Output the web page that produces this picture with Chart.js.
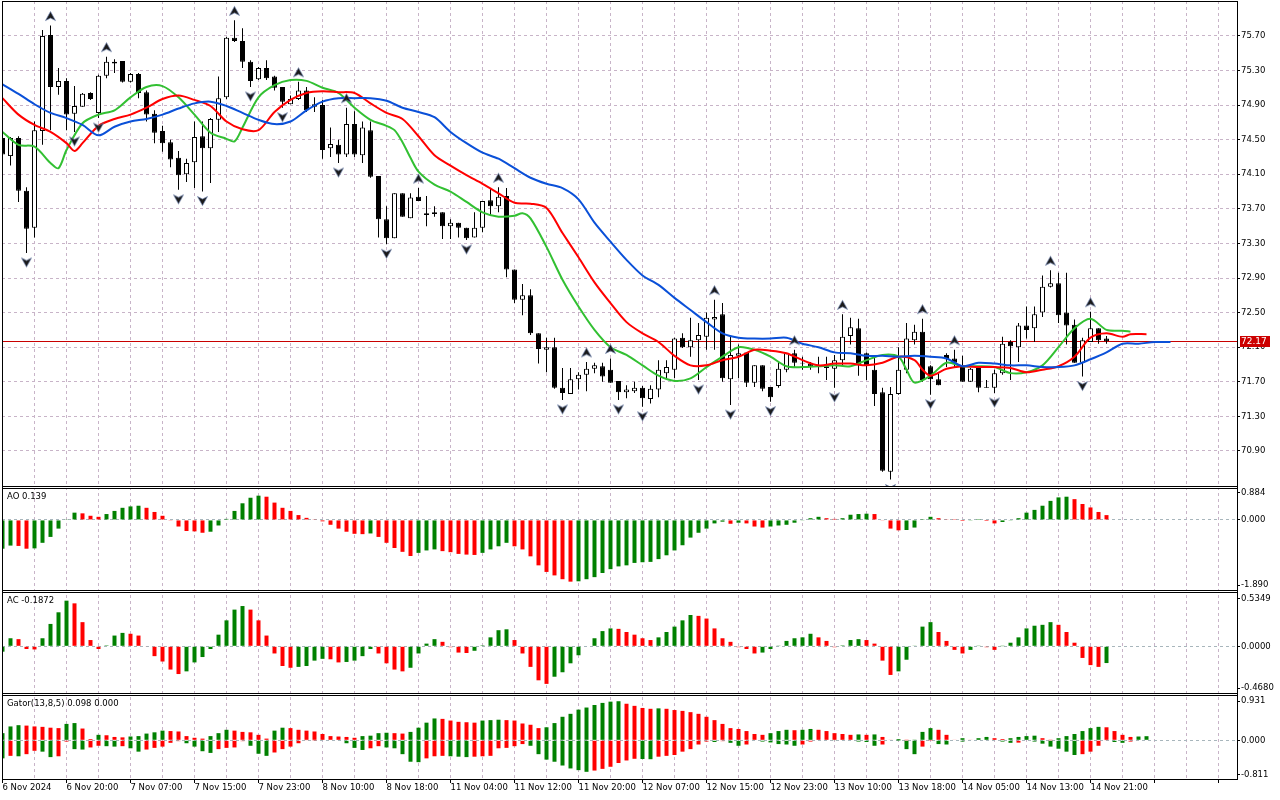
<!DOCTYPE html>
<html>
<head>
<meta charset="utf-8">
<script src="https://cdn.jsdelivr.net/npm/chart.js@4.4.1/dist/chart.umd.min.js"></script>
<style>
  html, body { margin: 0; padding: 0; background: #fff; overflow: hidden; }
  canvas { display: block; }
</style>
</head>
<body>
<canvas id="chart" width="1280" height="800" style="width:1280px;height:800px"></canvas>
<script>
// ---- data (H1 bars, 6-14 Nov 2024) ----
const timeLabels = ["6 Nov 2024", "6 Nov 20:00", "7 Nov 07:00", "7 Nov 15:00", "7 Nov 23:00",
  "8 Nov 10:00", "8 Nov 18:00", "11 Nov 04:00", "11 Nov 12:00", "11 Nov 20:00", "12 Nov 07:00",
  "12 Nov 15:00", "12 Nov 23:00", "13 Nov 10:00", "13 Nov 18:00", "14 Nov 05:00", "14 Nov 13:00",
  "14 Nov 21:00"];

const priceTicks = [70.90, 71.30, 71.70, 72.10, 72.50, 72.90, 73.30, 73.70, 74.10, 74.50, 74.90, 75.30, 75.70];
const aoTicks = [0.884, 0, -1.890];
const acTicks = [0.5349, 0, -0.4680];
const gatorTicks = [0.931, 0, -0.811];

const open = [74.52, 74.31, 74.52, 73.91, 73.48, 74.60, 75.71, 75.11, 75.18, 74.80,
  74.88, 75.04, 74.81, 75.24, 75.40, 75.41, 75.17, 75.26, 75.05, 74.80,
  74.60, 74.47, 74.29, 74.10, 74.24, 74.54, 74.40, 74.73, 74.99, 75.68,
  75.64, 75.40, 75.20, 75.33, 75.23, 75.11, 74.91, 74.97, 75.07, 74.88,
  74.90, 74.40, 74.44, 74.33, 74.68, 74.32, 74.61, 74.08, 73.58, 73.36,
  73.88, 73.59, 73.84, 73.65, 73.66, 73.66, 73.50, 73.54, 73.48, 73.37,
  73.48, 73.80, 73.73, 73.85, 73.00, 72.65, 72.70, 72.26, 72.07, 72.10,
  71.63, 71.56, 71.73, 71.78, 71.85, 71.88, 71.84, 71.71, 71.58, 71.59,
  71.63, 71.50, 71.61, 71.80, 71.84, 72.21, 72.10, 72.18, 72.22, 72.42,
  72.48, 71.73, 72.00, 72.04, 71.69, 71.89, 71.64, 71.65, 71.84, 72.03,
  71.92, 71.91, 71.89, 71.88, 71.85, 71.95, 72.23, 72.32, 72.03, 71.84,
  71.58, 70.66, 71.56, 71.84, 72.18, 72.28, 71.88, 71.73, 72.01, 71.97,
  71.87, 71.70, 71.86, 71.64, 71.63, 71.80, 72.16, 72.10, 72.35, 72.32,
  72.50, 72.80, 72.84, 72.50, 72.36, 71.92, 72.16, 72.32, 72.20];
const high = [74.54, 74.53, 74.54, 73.95, 74.71, 75.77, 75.82, 75.33, 75.21, 75.12,
  75.04, 75.05, 75.25, 75.46, 75.43, 75.41, 75.27, 75.27, 75.07, 74.84,
  74.66, 74.50, 74.37, 74.28, 74.71, 74.71, 74.75, 75.23, 75.69, 75.88,
  75.79, 75.42, 75.34, 75.42, 75.24, 75.11, 75.01, 75.17, 75.11, 74.99,
  74.96, 74.64, 74.50, 74.87, 74.83, 74.71, 74.71, 74.08, 73.73, 73.88,
  73.88, 73.88, 73.94, 73.85, 73.73, 73.66, 73.58, 73.54, 73.48, 73.66,
  73.79, 73.94, 73.95, 73.94, 73.00, 72.83, 72.77, 72.26, 72.21, 72.21,
  71.86, 71.86, 71.81, 71.93, 71.92, 71.92, 71.97, 71.71, 71.66, 71.70,
  71.65, 71.66, 71.95, 71.95, 72.21, 72.26, 72.44, 72.38, 72.50, 72.65,
  72.61, 72.22, 72.13, 72.04, 71.89, 71.89, 71.64, 71.94, 72.03, 72.07,
  71.99, 71.93, 71.99, 71.99, 72.01, 72.48, 72.44, 72.43, 72.04, 71.99,
  71.63, 71.64, 72.10, 72.38, 72.36, 72.43, 71.89, 71.80, 72.03, 72.07,
  72.00, 71.86, 71.86, 71.72, 71.84, 72.22, 72.18, 72.38, 72.57, 72.57,
  72.93, 72.99, 72.96, 72.96, 72.42, 72.21, 72.51, 72.32, 72.23];
const low = [74.30, 74.20, 73.78, 73.19, 73.37, 74.44, 74.61, 75.02, 74.61, 74.59,
  74.88, 74.96, 74.75, 75.21, 75.27, 75.16, 75.16, 74.98, 74.71, 74.46,
  74.36, 74.18, 73.92, 74.01, 73.94, 73.90, 74.00, 74.59, 74.97, 75.63,
  75.33, 75.11, 75.19, 75.19, 75.07, 74.87, 74.91, 74.96, 74.82, 74.82,
  74.28, 74.30, 74.23, 74.30, 74.30, 74.23, 74.06, 73.37, 73.29, 73.36,
  73.61, 73.59, 73.79, 73.50, 73.61, 73.35, 73.35, 73.37, 73.34, 73.37,
  73.43, 73.63, 73.66, 72.91, 72.61, 72.47, 72.24, 71.91, 71.81, 71.62,
  71.49, 71.56, 71.61, 71.59, 71.80, 71.70, 71.69, 71.49, 71.51, 71.57,
  71.41, 71.45, 71.52, 71.72, 71.74, 72.09, 71.99, 71.72, 72.07, 72.07,
  71.70, 71.43, 71.74, 71.64, 71.64, 71.59, 71.47, 71.63, 71.81, 71.87,
  71.84, 71.84, 71.80, 71.72, 71.63, 71.89, 72.13, 71.77, 71.72, 71.42,
  70.66, 70.57, 71.55, 71.80, 72.13, 71.70, 71.55, 71.66, 71.87, 71.87,
  71.70, 71.70, 71.58, 71.63, 71.57, 71.78, 71.72, 71.93, 72.20, 72.16,
  72.45, 72.79, 72.38, 72.13, 71.92, 71.76, 72.16, 72.14, 72.14];
const close = [74.33, 74.52, 73.91, 73.47, 74.61, 75.70, 75.11, 75.18, 74.79, 74.89,
  75.03, 74.97, 75.24, 75.40, 75.38, 75.17, 75.26, 75.04, 74.79, 74.58,
  74.46, 74.27, 74.09, 74.23, 74.53, 74.40, 74.74, 74.98, 75.68, 75.64,
  75.40, 75.18, 75.33, 75.21, 75.10, 74.94, 74.97, 75.07, 74.84, 74.91,
  74.38, 74.45, 74.33, 74.68, 74.33, 74.64, 74.07, 73.58, 73.36, 73.88,
  73.61, 73.83, 73.79, 73.63, 73.64, 73.50, 73.54, 73.48, 73.36, 73.48,
  73.79, 73.73, 73.84, 73.00, 72.65, 72.70, 72.26, 72.08, 72.10, 71.63,
  71.57, 71.73, 71.78, 71.85, 71.89, 71.76, 71.69, 71.58, 71.61, 71.63,
  71.51, 71.62, 71.84, 71.87, 72.20, 72.10, 72.18, 72.24, 72.44, 72.45,
  71.74, 72.01, 72.03, 71.69, 71.89, 71.62, 71.52, 71.85, 72.03, 71.92,
  71.91, 71.88, 71.88, 71.86, 71.95, 72.22, 72.33, 71.89, 71.89, 71.56,
  70.67, 71.56, 71.84, 72.20, 72.28, 71.72, 71.73, 71.66, 71.96, 71.92,
  71.70, 71.85, 71.63, 71.63, 71.80, 72.14, 72.11, 72.35, 72.30, 72.48,
  72.80, 72.84, 72.47, 72.35, 71.92, 72.18, 72.32, 72.18, 72.17];

// Alligator lines as [bar, price]
const jaw = [[0,75.14],[2,75.03],[4,74.91],[6,74.81],[8,74.75],[10,74.67],[12,74.55],[14,74.65],[16,74.71],
  [18,74.74],[20,74.79],[22,74.86],[24,74.92],[26,74.94],[28,74.89],[30,74.81],[32,74.73],[34,74.68],
  [36,74.71],[38,74.84],[40,74.94],[42,74.98],[44,74.98],[46,74.98],[48,74.95],[50,74.87],[52,74.82],
  [54,74.76],[56,74.59],[58,74.46],[60,74.35],[62,74.28],[64,74.17],[66,74.06],[68,73.99],[70,73.94],
  [72,73.81],[74,73.54],[76,73.32],[78,73.11],[80,72.93],[82,72.82],[84,72.67],[86,72.53],[88,72.39],
  [90,72.26],[92,72.21],[94,72.20],[96,72.20],[98,72.21],[100,72.14],[102,72.10],[104,72.04],[106,72.03],
  [108,72.00],[110,72.00],[112,71.99],[114,72.00],[116,71.99],[118,71.97],[120,71.88],[122,71.92],
  [124,71.91],[126,71.89],[128,71.89],[130,71.87],[132,71.87],[134,71.89],[136,71.96],[138,72.04],
  [140,72.14],[142,72.14],[144,72.16],[146,72.16]];
const teeth = [[0,74.98],[2,74.79],[4,74.67],[6,74.59],[8,74.46],[9,74.37],[10,74.46],[12,74.66],[14,74.74],
  [16,74.79],[18,74.87],[20,74.97],[22,75.01],[24,74.96],[26,74.89],[28,74.71],[30,74.62],[32,74.61],
  [34,74.82],[36,74.96],[38,75.04],[40,75.06],[42,75.05],[44,75.04],[46,74.92],[48,74.81],[50,74.74],
  [52,74.54],[54,74.32],[56,74.20],[58,74.09],[60,73.99],[62,73.88],[64,73.77],[66,73.76],[68,73.71],
  [70,73.42],[72,73.14],[74,72.85],[76,72.61],[78,72.39],[80,72.26],[82,72.16],[84,72.00],[86,71.89],
  [88,71.89],[90,71.95],[92,71.99],[94,72.07],[96,72.06],[98,72.03],[100,71.95],[102,71.89],[104,71.91],
  [106,71.91],[108,71.89],[110,71.92],[112,71.99],[114,71.95],[115,71.84],[116,71.77],[118,71.85],
  [120,71.88],[122,71.87],[124,71.87],[126,71.86],[128,71.81],[130,71.84],[132,71.88],[134,71.99],
  [136,72.21],[138,72.26],[140,72.22],[141,72.25],[143,72.25]];
const lips = [[0,74.59],[2,74.44],[4,74.42],[6,74.23],[7,74.17],[8,74.38],[10,74.69],[12,74.79],[14,74.84],
  [16,74.99],[18,75.11],[20,75.12],[22,74.99],[24,74.79],[26,74.58],[28,74.51],[29,74.48],[30,74.64],
  [32,74.99],[34,75.13],[36,75.19],[38,75.18],[40,75.10],[42,75.04],[44,74.87],[46,74.73],[48,74.66],
  [49,74.61],[50,74.47],[51,74.29],[52,74.13],[54,73.98],[56,73.90],[58,73.78],[60,73.66],[62,73.61],
  [64,73.62],[65,73.65],[66,73.59],[68,73.26],[70,72.88],[72,72.57],[74,72.30],[76,72.10],[78,72.01],
  [80,71.89],[82,71.77],[84,71.71],[86,71.74],[88,71.87],[90,71.99],[92,72.10],[94,72.07],[96,71.99],
  [98,71.88],[100,71.87],[102,71.88],[104,71.89],[106,71.88],[108,71.95],[110,72.01],[112,71.99],
  [113,71.84],[114,71.69],[116,71.77],[118,71.92],[120,71.88],[122,71.88],[124,71.87],[126,71.80],
  [128,71.81],[130,71.89],[132,72.10],[134,72.32],[136,72.43],[138,72.30],[140,72.29],[141,72.28]];

const fractalUp = [6, 13, 29, 37, 43, 52, 62, 73, 76, 89, 99, 105, 115, 119, 131, 136];
const fractalDown = [3, 9, 12, 22, 25, 31, 35, 42, 48, 58, 70, 77, 80, 87, 91, 96, 104, 111, 116, 124, 135];

const ao = [-0.83, -0.74, -0.75, -0.83, -0.82, -0.66, -0.49, -0.25, 0.02, 0.21,
  0.19, 0.12, 0.09, 0.17, 0.26, 0.35, 0.39, 0.41, 0.35, 0.23,
  0.12, -0.02, -0.19, -0.32, -0.33, -0.37, -0.34, -0.16, 0.03, 0.26,
  0.48, 0.64, 0.70, 0.67, 0.50, 0.35, 0.26, 0.14, 0.06, 0.02,
  -0.04, -0.14, -0.25, -0.34, -0.40, -0.41, -0.39, -0.49, -0.66, -0.81,
  -0.92, -1.04, -0.95, -0.88, -0.85, -0.90, -0.93, -0.98, -1.00, -1.01,
  -0.95, -0.85, -0.76, -0.66, -0.76, -0.85, -1.05, -1.31, -1.50, -1.60,
  -1.71, -1.78, -1.77, -1.71, -1.65, -1.53, -1.42, -1.34, -1.31, -1.24,
  -1.22, -1.21, -1.13, -1.02, -0.88, -0.73, -0.51, -0.37, -0.25, -0.10,
  -0.05, -0.11, -0.08, -0.10, -0.19, -0.22, -0.19, -0.16, -0.14, -0.08,
  -0.01, 0.05, 0.09, 0.05, 0.03, 0.05, 0.15, 0.17, 0.18, 0.17,
  -0.01, -0.25, -0.30, -0.29, -0.22, 0.005, 0.09, 0.05, 0.02, 0.005,
  -0.03, -0.02, 0.003, -0.03, -0.10, -0.06, -0.02, 0.05, 0.21, 0.29,
  0.41, 0.55, 0.65, 0.67, 0.60, 0.46, 0.36, 0.23, 0.139];

const ac = [-0.06, 0.09, 0.08, -0.03, -0.035, 0.09, 0.25, 0.38, 0.51, 0.48,
  0.27, 0.07, -0.03, 0.01, 0.12, 0.15, 0.14, 0.12, -0.005, -0.11,
  -0.17, -0.26, -0.31, -0.28, -0.18, -0.12, -0.03, 0.13, 0.29, 0.41,
  0.45, 0.41, 0.29, 0.12, -0.08, -0.22, -0.24, -0.23, -0.22, -0.16,
  -0.14, -0.145, -0.18, -0.175, -0.16, -0.11, -0.03, -0.08, -0.19, -0.26,
  -0.28, -0.24, -0.08, 0.03, 0.08, 0.05, -0.01, -0.07, -0.075, -0.05,
  0.01, 0.10, 0.18, 0.19, 0.07, -0.08, -0.23, -0.38, -0.42, -0.34,
  -0.29, -0.19, -0.10, 0.00, 0.09, 0.17, 0.20, 0.195, 0.16, 0.13,
  0.09, 0.07, 0.10, 0.16, 0.22, 0.29, 0.35, 0.34, 0.31, 0.20,
  0.09, 0.05, -0.01, -0.03, -0.08, -0.07, -0.03, 0.003, 0.06, 0.09,
  0.10, 0.14, 0.10, 0.06, -0.01, 0.01, 0.07, 0.08, 0.07, 0.03,
  -0.16, -0.32, -0.28, -0.15, 0.004, 0.22, 0.27, 0.16, 0.06, -0.04,
  -0.08, -0.04, 0.003, -0.01, -0.04, 0.002, 0.04, 0.10, 0.20, 0.23,
  0.24, 0.27, 0.24, 0.16, 0.04, -0.13, -0.21, -0.23, -0.1872];

const gatorUp = [0.17, 0.33, 0.36, 0.35, 0.33, 0.32, 0.30, 0.29, 0.39, 0.41,
  0.28, 0.03, 0.13, 0.12, 0.08, 0.07, 0.09, 0.10, 0.16, 0.19,
  0.23, 0.22, 0.21, 0.10, 0.06, 0.04, 0.10, 0.17, 0.25, 0.23,
  0.20, 0.19, 0.13, 0.04, 0.23, 0.30, 0.29, 0.25, 0.23, 0.21,
  0.15, 0.10, 0.09, 0.08, 0.06, 0.10, 0.11, 0.17, 0.18, 0.17,
  0.16, 0.20, 0.30, 0.42, 0.52, 0.51, 0.47, 0.44, 0.43, 0.42,
  0.47, 0.48, 0.49, 0.48, 0.47, 0.40, 0.37, 0.29, 0.31, 0.41,
  0.56, 0.63, 0.73, 0.78, 0.84, 0.89, 0.92, 0.93, 0.87, 0.82,
  0.77, 0.75, 0.76, 0.75, 0.72, 0.70, 0.67, 0.63, 0.56, 0.48,
  0.39, 0.29, 0.27, 0.22, 0.15, 0.13, 0.17, 0.22, 0.25, 0.24,
  0.25, 0.27, 0.25, 0.22, 0.17, 0.15, 0.13, 0.14, 0.13, 0.14,
  0.08, 0.01, 0.03, 0.002, 0.004, 0.20, 0.29, 0.25, 0.13, 0.01,
  0.05, 0.01, 0.05, 0.08, 0.05, 0.03, 0.05, 0.08, 0.10, 0.11,
  0.05, 0.003, 0.05, 0.10, 0.15, 0.22, 0.29, 0.32, 0.31, 0.22,
  0.13, 0.08, 0.09, 0.098];
const gatorDown = [-0.43, -0.37, -0.38, -0.33, -0.25, -0.27, -0.40, -0.38, -0.03, -0.21,
  -0.22, -0.17, -0.13, -0.14, -0.15, -0.14, -0.19, -0.27, -0.22, -0.18,
  -0.15, -0.06, -0.02, -0.07, -0.15, -0.26, -0.30, -0.21, -0.18, -0.17,
  -0.02, -0.13, -0.32, -0.37, -0.29, -0.21, -0.15, -0.07, -0.01, -0.005,
  0, 0, 0, -0.07, -0.18, -0.23, -0.19, -0.14, -0.17, -0.19,
  -0.33, -0.51, -0.52, -0.43, -0.38, -0.37, -0.38, -0.39, -0.40, -0.39,
  -0.38, -0.37, -0.19, -0.18, -0.14, -0.09, -0.13, -0.33, -0.46, -0.51,
  -0.60, -0.67, -0.71, -0.75, -0.72, -0.68, -0.63, -0.54, -0.48, -0.44,
  -0.445, -0.45, -0.39, -0.37, -0.35, -0.27, -0.21, -0.10, -0.03, -0.04,
  -0.02, -0.06, -0.13, -0.10, 0, -0.03, -0.05, -0.09, -0.10, -0.13,
  -0.10, -0.03, 0, 0, -0.01, 0, 0, -0.03, -0.04, -0.13,
  -0.10, 0, -0.002, -0.21, -0.33, -0.15, -0.005, -0.09, -0.10, 0,
  -0.03, 0, 0, 0, 0, -0.03, -0.06, -0.055, 0, -0.03,
  -0.08, -0.15, -0.20, -0.27, -0.35, -0.33, -0.27, -0.13, -0.01, -0.04,
  -0.06, -0.03, 0, 0];

// ---- look ----
const FONT = '"DejaVu Sans", "Liberation Sans", sans-serif';
const GRID = '#c8b4c8';
const ZERO = '#a8b6bc';
const GREEN = '#008000';
const RED = '#ff0000';
const lastClose = close[close.length - 1];

Chart.defaults.font.family = FONT;
Chart.defaults.font.size = 8.5;
Chart.defaults.color = '#000';

function risingColors(values, magnitude) {
  return values.map((v, i) => {
    if (i === 0) return GREEN;
    const a = magnitude ? Math.abs(v) : v;
    const b = magnitude ? Math.abs(values[i - 1]) : values[i - 1];
    return a > b ? GREEN : RED;
  });
}

function fractalImage(up) {
  const c = document.createElement('canvas');
  c.width = 13; c.height = 33;
  const g = c.getContext('2d');
  const s = up ? 1 : -1;
  const cx = 6.5, cy = 16.5 - 9 * s;
  g.beginPath();
  g.moveTo(cx, cy - 5 * s);
  g.lineTo(cx + 5, cy + 4 * s);
  g.lineTo(cx, cy + 1.5 * s);
  g.lineTo(cx - 5, cy + 4 * s);
  g.closePath();
  g.fillStyle = '#1a1a1a';
  g.fill();
  g.strokeStyle = 'rgba(110,130,175,0.85)';
  g.lineWidth = 0.8;
  g.stroke();
  return c;
}

const fitRight = s => { s.width = 43; s.paddingTop = 0; s.paddingBottom = 0; };

function subAxis(ticks, weight, min, max, digits) {
  return {
    type: 'linear', position: 'right', stack: 'panes', stackWeight: weight, min, max,
    afterBuildTicks: s => {
      const m = (s.max - s.min) * 0.055;
      s.ticks = ticks.map(v => ({ value: Math.max(s.min + m, Math.min(s.max - m, v)) }));
    },
    afterFit: fitRight,
    ticks: { padding: 1, callback: (v, i) => ticks[i].toFixed(digits) },
    grid: {
      color: c => (c.tick && c.tick.value === 0 ? ZERO : 'rgba(0,0,0,0)'),
      tickLength: 3, tickColor: '#000'
    },
    border: { color: '#000', dash: [3, 3] }
  };
}

const gridBars = [];
for (let b = 0; b <= 152; b += 4) gridBars.push(b);

const paneTitles = [
  ['yAO', 'AO ' + ao[ao.length - 1].toFixed(3)],
  ['yAC', 'AC ' + ac[ac.length - 1].toFixed(4)],
  ['yGator', 'Gator(13,8,5) ' + gatorUp[gatorUp.length - 1].toFixed(3) + ' ' + Math.abs(gatorDown[gatorDown.length - 1]).toFixed(3)]
];

const paneDecor = {
  id: 'paneDecor',
  beforeDatasetsDraw(chart) {
    const { ctx, chartArea: a, scales } = chart;
    const y = Math.round(scales.yMain.getPixelForValue(lastClose));
    ctx.save();
    ctx.fillStyle = '#c80000';
    ctx.fillRect(a.left, y, a.right - a.left, 1);
    ctx.restore();
  },
  afterDraw(chart) {
    const { ctx, chartArea: a, scales } = chart;
    const w = a.right - a.left;
    ctx.save();
    ['yAO', 'yAC', 'yGator'].forEach(id => {
      const b = Math.round(scales[id].top);
      ctx.fillStyle = '#fff';
      ctx.fillRect(a.left, b - 1, w, 3);
      ctx.fillStyle = '#000';
      ctx.fillRect(a.left, b - 1, w, 1);
      ctx.fillRect(a.left, b + 1, w, 1);
    });
    ctx.fillStyle = '#000';
    ctx.fillRect(a.left, a.top, 1, a.bottom - a.top);
    ctx.fillRect(a.left, a.top, w, 1);

    ctx.font = '8.5px ' + FONT;
    ctx.textAlign = 'left';
    ctx.textBaseline = 'middle';
    paneTitles.forEach(([id, text]) => ctx.fillText(text, a.left + 5, scales[id].top + 10));

    const y = Math.round(scales.yMain.getPixelForValue(lastClose));
    ctx.fillStyle = '#cc0000';
    ctx.fillRect(a.right + 3, y - 5, 30, 11);
    ctx.fillStyle = '#fff';
    ctx.font = '9px ' + FONT;
    ctx.fillText(lastClose.toFixed(2), a.right + 4, y + 0.5);
    ctx.restore();
  }
};

const histo = (values, colors, axis) => ({
  type: 'bar',
  data: values.map((v, i) => ({ x: i, y: v })),
  backgroundColor: colors,
  yAxisID: axis,
  barThickness: 4,
  grouped: false,
  inflateAmount: 0,
  order: 2
});

const line = (points, color) => ({
  type: 'line',
  data: points.map(([x, y]) => ({ x, y })),
  borderColor: color,
  borderWidth: 2,
  pointRadius: 0,
  tension: 0.3,
  yAxisID: 'yMain',
  order: 1
});

new Chart(document.getElementById('chart'), {
  type: 'bar',
  data: {
    datasets: [
      {
        data: open.map((_, i) => ({ x: i, y: [low[i], high[i]] })),
        backgroundColor: '#000',
        yAxisID: 'yMain',
        barThickness: 1,
        grouped: false,
        inflateAmount: 0,
        order: 4
      },
      {
        data: open.map((o, i) => ({ x: i, y: [o, close[i]] })),
        backgroundColor: open.map((o, i) => (close[i] > o ? '#fff' : '#000')),
        borderColor: '#000',
        borderWidth: 1,
        borderSkipped: false,
        yAxisID: 'yMain',
        barThickness: 5,
        grouped: false,
        inflateAmount: 0,
        order: 3
      },
      line(jaw, '#0a50d8'),
      line(teeth, '#ff0000'),
      line(lips, '#32c032'),
      {
        type: 'line', showLine: false,
        data: fractalUp.map(i => ({ x: i, y: high[i] })),
        pointStyle: fractalImage(true), pointRadius: 5,
        yAxisID: 'yMain', order: 0
      },
      {
        type: 'line', showLine: false,
        data: fractalDown.map(i => ({ x: i, y: low[i] })),
        pointStyle: fractalImage(false), pointRadius: 5,
        yAxisID: 'yMain', order: 0
      },
      histo(ao, risingColors(ao, false), 'yAO'),
      histo(ac, risingColors(ac, false), 'yAC'),
      histo(gatorUp, risingColors(gatorUp, true), 'yGator'),
      histo(gatorDown, risingColors(gatorDown, true), 'yGator')
    ]
  },
  options: {
    responsive: false,
    animation: false,
    events: [],
    layout: { autoPadding: false, padding: { left: 2, top: 1, right: 0, bottom: 0 } },
    plugins: { legend: { display: false }, tooltip: { enabled: false } },
    scales: {
      x: {
        type: 'linear', position: 'bottom', min: -0.0625, max: 154.3125, offset: false,
        afterBuildTicks: s => { s.ticks = gridBars.map(v => ({ value: v })); },
        afterFit: s => { s.height = 21; s.paddingLeft = 0; s.paddingRight = 0; },
        ticks: {
          autoSkip: false, maxRotation: 0, minRotation: 0, align: 'start', padding: 0,
          callback: v => (v % 8 === 0 ? (timeLabels[v / 8] || '') : '')
        },
        grid: {
          offset: false, color: GRID, tickLength: 4,
          tickColor: c => (c.tick && c.tick.value % 8 === 0 ? '#000' : 'rgba(0,0,0,0)')
        },
        border: { color: '#000', dash: [3, 3] }
      },
      yMain: {
        type: 'linear', position: 'right', stack: 'panes', stackWeight: 486,
        min: 70.483, max: 76.104,
        afterBuildTicks: s => { s.ticks = priceTicks.map(v => ({ value: v })); },
        afterFit: fitRight,
        ticks: { padding: 1, callback: v => v.toFixed(2) },
        grid: { color: GRID, tickLength: 3, tickColor: '#000' },
        border: { color: '#000', dash: [3, 3] }
      },
      yAO: subAxis(aoTicks, 104, -2.05, 0.95, 3),
      yAC: subAxis(acTicks, 103, -0.533, 0.618, 4),
      yGator: subAxis(gatorTicks, 85, -0.921, 1.102, 3)
    }
  },
  plugins: [paneDecor]
});
</script>
</body>
</html>
